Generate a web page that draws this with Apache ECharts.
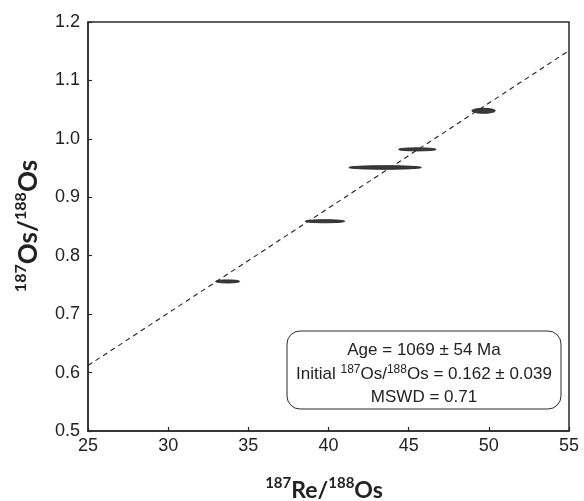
<!DOCTYPE html>
<html>
<head>
<meta charset="utf-8">
<script src="https://cdn.jsdelivr.net/npm/echarts@6/dist/echarts.min.js"></script>
<style>
  html, body { margin: 0; padding: 0; background: #fff; }
  #chart { width: 584px; height: 501px; }
</style>
</head>
<body>
<div id="chart"></div>
<script>
// isochron samples: 187Re/188Os, 187Os/188Os and their 2-sigma errors
var reOs = [33.71, 39.78, 43.53, 45.54, 49.67];
var osOs = [0.756, 0.859, 0.951, 0.982, 1.048];
var reErr = [0.75, 1.23, 2.26, 1.17, 0.73];
var osErr = [0.0026, 0.0026, 0.0030, 0.0026, 0.0042];

// regression line end points
var fitX = [25, 55];
var fitY = [0.612, 1.151];

var xTicks = [25, 30, 35, 40, 45, 50, 55];
var yTicks = [0.5, 0.6, 0.7, 0.8, 0.9, 1.0, 1.1, 1.2];

var ellipses = [];
for (var i = 0; i < reOs.length; i++) {
  ellipses.push([reOs[i], osOs[i], reErr[i], osErr[i]]);
}
var fitLine = [];
for (var j = 0; j < fitX.length; j++) {
  fitLine.push([fitX[j], fitY[j]]);
}

var myChart = echarts.init(document.getElementById("chart"));
var tickFont = "'Liberation Sans', Arial, sans-serif";
var titleFont = "Lato, 'Open Sans', sans-serif";

myChart.setOption({
  animation: false,
  grid: {
    left: 88,
    right: 15,
    top: 22,
    bottom: 70,
    show: true,
    borderColor: "#2a2a2a",
    borderWidth: 1.5
  },
  xAxis: {
    type: "value",
    min: xTicks[0],
    max: xTicks[xTicks.length - 1],
    interval: 5,
    axisLine: { show: true, lineStyle: { color: "#2a2a2a", width: 1.5 } },
    axisTick: { show: true, inside: true, length: 4, lineStyle: { color: "#2a2a2a", width: 1.2 } },
    splitLine: { show: false },
    axisLabel: { color: "#222", fontSize: 18, fontFamily: tickFont, margin: 6 }
  },
  yAxis: {
    type: "value",
    min: yTicks[0],
    max: yTicks[yTicks.length - 1],
    interval: 0.1,
    axisLine: { show: true, lineStyle: { color: "#2a2a2a", width: 1.5 } },
    axisTick: { show: true, inside: true, length: 4, lineStyle: { color: "#2a2a2a", width: 1.2 } },
    splitLine: { show: false },
    axisLabel: {
      color: "#222",
      fontSize: 18,
      fontFamily: tickFont,
      margin: 8,
      formatter: function (v) { return v.toFixed(1); }
    }
  },
  series: [
    {
      type: "line",
      data: fitLine,
      symbol: "none",
      silent: true,
      lineStyle: { color: "#222", width: 1.1, type: [5, 4] },
      z: 2
    },
    {
      type: "custom",
      data: ellipses,
      z: 3,
      renderItem: function (params, api) {
        var c = api.coord([api.value(0), api.value(1)]);
        var rx = api.size([api.value(2), 0])[0];
        var ry = api.size([0, api.value(3)])[1];
        var pts = [];
        for (var k = 0; k < 48; k++) {
          var a = (k / 48) * Math.PI * 2;
          pts.push([c[0] + rx * Math.cos(a), c[1] + ry * Math.sin(a)]);
        }
        return {
          type: "polygon",
          shape: { points: pts },
          style: { fill: "#3a3a3a", stroke: "#2a2a2a", lineWidth: 1 }
        };
      }
    }
  ],
  graphic: [
    {
      type: "rect",
      shape: { x: 287, y: 331, width: 274, height: 78, r: 13 },
      style: { fill: "#fff", stroke: "#2a2a2a", lineWidth: 1 },
      z: 10
    },
    {
      type: "text",
      x: 424,
      y: 350,
      z: 11,
      style: {
        text: "Age = 1069 ± 54 Ma",
        font: "17px 'Liberation Sans', Arial, sans-serif",
        fill: "#222",
        align: "center",
        verticalAlign: "middle"
      }
    },
    {
      type: "text",
      x: 424,
      y: 374,
      z: 11,
      style: {
        text: "Initial {s|187}Os/{s|188}Os = 0.162 ± 0.039",
        font: "17px 'Liberation Sans', Arial, sans-serif",
        fill: "#222",
        align: "center",
        verticalAlign: "middle",
        rich: {
          s: { fontSize: 12, fontFamily: "'Liberation Sans', Arial, sans-serif", verticalAlign: "top", lineHeight: 13, fill: "#222" }
        },
        lineHeight: 20
      }
    },
    {
      type: "text",
      x: 424,
      y: 397,
      z: 11,
      style: {
        text: "MSWD = 0.71",
        font: "17px 'Liberation Sans', Arial, sans-serif",
        fill: "#222",
        align: "center",
        verticalAlign: "middle"
      }
    },
    {
      type: "text",
      x: 324,
      y: 489,
      style: {
        text: "{s|187}{m|Re/}{s|188}{m|Os}",
        align: "center",
        verticalAlign: "middle",
        rich: {
          s: { fontSize: 15, fontWeight: "bold", fontFamily: titleFont, fill: "#222", verticalAlign: "top", lineHeight: 15 },
          m: { fontSize: 23, fontWeight: "bold", fontFamily: titleFont, fill: "#222", verticalAlign: "bottom", lineHeight: 26 }
        }
      }
    },
    {
      type: "text",
      x: 27,
      y: 226,
      rotation: Math.PI / 2,
      style: {
        text: "{s|187}{m|Os/}{s|188}{m|Os}",
        align: "center",
        verticalAlign: "middle",
        rich: {
          s: { fontSize: 16, fontWeight: "bold", fontFamily: titleFont, fill: "#222", verticalAlign: "top", lineHeight: 16 },
          m: { fontSize: 26, fontWeight: "bold", fontFamily: titleFont, fill: "#222", verticalAlign: "bottom", lineHeight: 29 }
        }
      }
    }
  ]
});
</script>
</body>
</html>
